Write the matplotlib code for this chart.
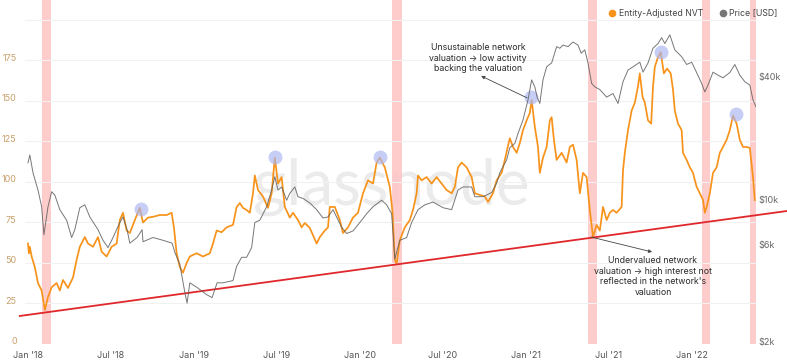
import pandas as pd
import matplotlib
matplotlib.use("Agg")
import matplotlib.pyplot as plt
import matplotlib.transforms as mtransforms
from matplotlib.lines import Line2D

plt.rcParams['font.family'] = ['Inter', 'DejaVu Sans']

base = pd.Timestamp('2018-01-01')

# Entity-Adjusted NVT (days since 2018-01-01, value)
nvt_day = [0, 2, 4, 8, 15, 22, 30, 37, 44, 52, 63, 70, 77, 88, 99, 107, 114, 125, 132, 143,
           154, 162, 173, 184, 195, 202, 209, 217, 224, 235, 246, 253, 264, 275, 290, 305, 316, 321, 327, 334,
           341, 349, 356, 371, 385, 400, 407, 415, 426, 437, 451, 459, 466, 473, 481, 488, 495, 499, 506, 517,
           528, 536, 543, 550, 558, 565, 576, 583, 594, 602, 609, 620, 635, 642, 653, 660, 664, 675, 686, 693,
           704, 715, 726, 737, 748, 759, 767, 774, 785, 796, 802, 807, 811, 818, 829, 840, 847, 855, 858, 866,
           877, 888, 899, 910, 921, 932, 939, 946, 954, 965, 976, 983, 994, 1005, 1012, 1023, 1031, 1042, 1049, 1060,
           1067, 1075, 1082, 1089, 1097, 1104, 1108, 1115, 1122, 1126, 1133, 1141, 1148, 1152, 1157, 1163, 1174, 1185, 1192, 1199,
           1207, 1214, 1221, 1229, 1236, 1243, 1251, 1258, 1265, 1273, 1280, 1287, 1295, 1306, 1309, 1313, 1320, 1328, 1335, 1342,
           1346, 1352, 1357, 1364, 1371, 1375, 1379, 1386, 1392, 1399, 1406, 1414, 1419, 1423, 1430, 1438, 1441, 1449, 1456, 1463,
           1471, 1478, 1485, 1489, 1493, 1500, 1507, 1515, 1522, 1529, 1537, 1544, 1551, 1559, 1566, 1573, 1581, 1588, 1595, 1599]
nvt_val = [62, 56, 60, 54, 47.5, 37.6, 33, 21, 29, 35, 37.6, 33, 39.5, 34.6, 41, 52, 60, 66, 62, 60,
           66, 57, 54, 60, 62, 76.5, 81, 70, 68.5, 76.5, 84, 75, 78, 78.5, 79.6, 79.6, 81, 72, 56, 47.5,
           44, 50, 54, 56, 54, 56, 62, 70, 69, 72, 73.5, 84.5, 87, 84, 82.7, 81, 93, 104, 95, 91,
           84, 93, 115, 99, 103, 84.6, 78, 81, 76.5, 72, 74.7, 71.6, 62, 66, 70, 72, 84.6, 84.6, 76.5, 68.5,
           72, 78, 81, 93, 101, 99, 112, 115, 109, 97, 81, 52, 49.5, 64, 72, 76.5, 82.7, 93, 104, 101,
           103, 99, 103, 99, 95, 93, 97, 109, 112, 109, 103, 93, 92, 91, 87.7, 93, 101, 105.6, 113.6, 127,
           121.6, 118, 124, 132, 138, 142.6, 150.6, 134, 121.6, 105.6, 115, 121.6, 138, 140, 126, 113.6, 118, 112, 121.6, 123,
           113.6, 93, 105.6, 103, 82.7, 66, 73.5, 70, 84.6, 76.5, 81, 82.7, 81, 84.6, 107, 118, 132, 144, 149, 159,
           167, 152.5, 149, 138, 136, 159, 171, 177, 180, 167, 170, 167, 157, 144, 136, 132, 118, 113.6, 109, 105.6,
           97, 93, 89, 81, 84.6, 93, 105.6, 109, 118, 121.6, 126, 132, 141, 136, 126, 121.6, 121.6, 121, 103, 88.8]

# Price [USD] (days since 2018-01-01, thousand USD)
price_day = [0, 4, 11, 22, 30, 35, 44, 52, 59, 70, 85, 96, 103, 114, 125, 136, 154, 165, 176, 187,
             202, 209, 218, 224, 240, 251, 253, 275, 297, 317, 323, 334, 345, 350, 356, 372, 394, 405, 416, 429,
             451, 459, 470, 481, 492, 499, 510, 525, 536, 543, 550, 558, 569, 576, 587, 594, 605, 620, 635, 649,
             660, 671, 690, 701, 715, 730, 745, 759, 778, 789, 800, 803, 807, 818, 833, 844, 858, 873, 891, 913,
             932, 946, 957, 976, 983, 1001, 1020, 1031, 1038, 1053, 1060, 1071, 1078, 1089, 1100, 1108, 1115, 1120, 1126, 1133,
             1141, 1152, 1163, 1170, 1177, 1188, 1199, 1210, 1217, 1225, 1232, 1240, 1247, 1258, 1273, 1287, 1298, 1309, 1320, 1331,
             1346, 1353, 1364, 1375, 1386, 1394, 1401, 1412, 1423, 1438, 1449, 1460, 1471, 1482, 1489, 1496, 1507, 1518, 1529, 1544,
             1555, 1566, 1577, 1588, 1595, 1602]
price_k = [15.1, 16.5, 13.5, 11.1, 9.2, 6.7, 9.2, 10.9, 10.5, 8.9, 7.9, 6.5, 7.1, 9.1, 9.4, 8.2, 7.1, 6.3, 5.8, 6.5,
           7.7, 8.2, 7.1, 6.1, 6.5, 7.1, 6.2, 6.5, 6.3, 6.1, 5.5, 4.8, 3.5, 3.1, 3.9, 3.7, 3.4, 3.3, 3.9, 3.9,
           4.0, 4.7, 5.2, 5.2, 5.8, 7.7, 7.9, 9.2, 11.1, 12.9, 11.1, 11.5, 9.9, 10.7, 11.5, 10.3, 10.1, 9.6, 8.9, 8.1,
           8.2, 8.9, 7.3, 6.8, 7.0, 7.7, 8.5, 9.2, 9.9, 9.4, 8.5, 6.8, 5.1, 6.3, 6.5, 7.7, 8.9, 9.4, 9.7, 9.1,
           8.9, 11.1, 11.5, 11.5, 10.3, 10.3, 10.8, 12.0, 13.5, 15.6, 17.9, 18.8, 21, 24.5, 30.7, 38.5, 35.6, 31.7, 29.5, 38.5,
           44.6, 46.6, 56, 55, 57, 56, 59, 57, 52, 54, 46.6, 37, 35.6, 34.5, 31.7, 33, 29.5, 37.7, 43, 44.6,
           47, 42, 46.6, 55, 58, 62, 58, 64, 54, 50, 45.8, 47, 41.8, 37, 33.6, 36.3, 42, 40.6, 39.4, 41.8,
           45.8, 40.6, 37.7, 36.3, 30.7, 28.3]

# shaded periods (start day, end day)
band_start = [31, 801, 1232, 1483, 1588]
band_end = [51, 823, 1252, 1500, 1606]

# highlighted NVT peaks
peak_day = [249, 543, 774, 1107, 1393, 1558]
peak_val = [83.3, 115.4, 115.4, 152.5, 180, 142]

# support trend line (day, NVT)
trend_day = [-18, 1670]
trend_val = [17.3, 82.1]

x_ticks = ['2018-01-01', '2018-07-01', '2019-01-01', '2019-07-01', '2020-01-01',
           '2020-07-01', '2021-01-01', '2021-07-01', '2022-01-01']
x_labels = ["Jan '18", "Jul '18", "Jan '19", "Jul '19", "Jan '20",
            "Jul '20", "Jan '21", "Jul '21", "Jan '22"]
price_ticks = [2000, 6000, 10000, 40000]
price_labels = ['$2k', '$6k', '$10k', '$40k']


def to_date(days):
    return base + pd.to_timedelta(days, unit='D')


fig = plt.figure(figsize=(7.87, 3.63), dpi=100)
ax = fig.add_axes([25 / 787, 19 / 363, 731 / 787, 344 / 363])
ax.patch.set_visible(False)

# watermark
fig.text(391 / 787, 1 - 204 / 363, 'glassnode', ha='center', va='baseline',
         fontsize=46, color='#ebebeb', family='Lato', zorder=-5)

for s, e in zip(band_start, band_end):
    ax.axvspan(to_date(s), to_date(e), color='#ffc4c4', alpha=0.85, lw=0, zorder=0)

ax.plot(to_date(nvt_day), nvt_val, color='#f7931a', lw=1.25, zorder=3)
ax.plot(to_date(peak_day), peak_val, 'o', ms=10, color='#a9b4f2', alpha=0.65,
        mec='none', zorder=4)
ax.plot(to_date(trend_day), trend_val, color='#e0282c', lw=1.3, zorder=5, clip_on=False)

ax.set_xlim(to_date(-6.6), to_date(1601.6))
ax.set_ylim(0, 212.3)
ax.set_yticks(range(0, 201, 25))
ax.set_yticklabels([str(v) for v in range(0, 176, 25)] + [''])
ax.set_xticks(pd.to_datetime(x_ticks))
ax.set_xticklabels(x_labels)
ax.grid(axis='y', color='#f1f1f1', lw=0.8)
ax.grid(axis='x', visible=False)
for sp in ax.spines.values():
    sp.set_visible(False)
ax.tick_params(axis='y', length=0, pad=6, labelsize=6.5, labelcolor='#c9a06c')
ax.tick_params(axis='x', length=0, pad=5, labelsize=6.5, labelcolor='#555555')
shift = mtransforms.ScaledTranslation(0, 3 / 100, fig.dpi_scale_trans)
for lab in ax.get_yticklabels():
    lab.set_transform(lab.get_transform() + shift)

ax2 = ax.twinx()
ax2.plot(to_date(price_day), [p * 1000 for p in price_k], color='#5f5f5f', lw=0.7,
         alpha=0.85, zorder=3)
ax2.set_yscale('log')
ax2.set_ylim(1955, 94800)
ax2.set_yticks(price_ticks)
ax2.set_yticklabels(price_labels)
ax2.minorticks_off()
for sp in ax2.spines.values():
    sp.set_visible(False)
ax2.tick_params(axis='y', length=0, pad=1.5, labelsize=6.5, labelcolor='#666666')

# annotations
ax.text(to_date(990), 176.5, 'Unsustainable network\nvaluation \u2192 low activity\nbacking the valuation',
        ha='center', va='center', fontsize=6.3, color='#2a2a2a', linespacing=1.25, zorder=6)
ax.annotate('', xy=(to_date(997), 165.4), xytext=(to_date(1098), 151.9),
            arrowprops=dict(arrowstyle='-|>', color='#444444', lw=0.6, mutation_scale=5,
                            shrinkA=0, shrinkB=0), zorder=6)
ax.text(to_date(1375), 41.7, "Undervalued network\nvaluation \u2192 high interest not\nreflected in the network's\nvaluation",
        ha='center', va='center', fontsize=6.3, color='#2a2a2a', linespacing=1.25, zorder=6)
ax.annotate('', xy=(to_date(1373), 56.8), xytext=(to_date(1239), 66),
            arrowprops=dict(arrowstyle='-|>', color='#444444', lw=0.6, mutation_scale=5,
                            shrinkA=0, shrinkB=0), zorder=6)

# legend
fig.add_artist(Line2D([612 / 787], [1 - 13 / 363], marker='o', ms=4.5, color='#f7931a',
                      transform=fig.transFigure))
fig.text(619 / 787, 1 - 13 / 363, 'Entity-Adjusted NVT', ha='left', va='center',
         fontsize=6.3, color='#444444')
fig.add_artist(Line2D([723 / 787], [1 - 13 / 363], marker='o', ms=4.5, color='#777777',
                      transform=fig.transFigure))
fig.text(729 / 787, 1 - 13 / 363, 'Price [USD]', ha='left', va='center',
         fontsize=6.3, color='#444444')

fig.savefig('out.png', dpi=100)
